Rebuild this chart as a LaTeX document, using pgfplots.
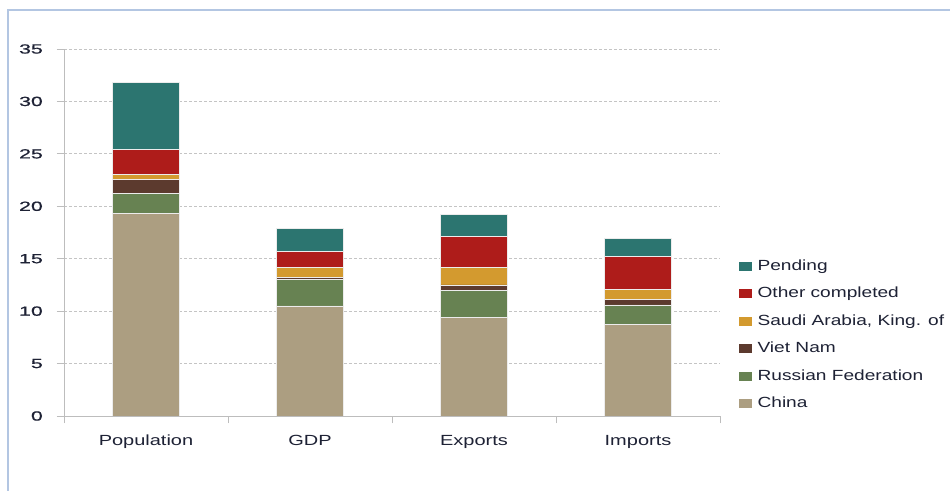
\documentclass[border=0pt]{standalone}
\usepackage{fontspec}
\setmainfont{Liberation Sans}[FakeStretch=1.36]
\newfontfamily\legfont{Liberation Sans}[FakeStretch=1.3]
\newfontfamily\tickfont{Liberation Sans}[FakeStretch=1.6, FakeBold=0.8]
\usepackage{pgfplots}
\pgfplotsset{compat=1.18}
\definecolor{cPend}{HTML}{2C7570}
\definecolor{cOther}{HTML}{AE1C1A}
\definecolor{cSaudi}{HTML}{D39A2F}
\definecolor{cViet}{HTML}{5C3A2E}
\definecolor{cRus}{HTML}{678252}
\definecolor{cChina}{HTML}{AC9E81}
\definecolor{txt}{HTML}{1E2235}
\definecolor{frameblue}{HTML}{B3C6E2}
\definecolor{spine}{HTML}{BDBDBD}
\definecolor{gridc}{HTML}{C4C4C4}
\begin{document}
\begin{tikzpicture}
\useasboundingbox (0,0) rectangle (950bp,491bp);
\fill[white] (0,0) rectangle (950bp,491bp);
\draw[frameblue, line width=1.2bp] (8bp,0) -- (8bp,481bp) -- (950bp,481bp);
\begin{axis}[
  at={(64bp,75bp)}, anchor=south west,
  scale only axis, width=656bp, height=367bp,
  xmin=-0.5, xmax=3.5, ymin=0, ymax=35,
  ybar stacked, bar width=0.405,
  axis x line*=bottom, axis y line*=left,
  axis line style={spine, line width=0.8bp},
  every tick/.style={spine, line width=0.8bp},
  tick align=outside, major tick length=7bp,
  xtick={-0.5,0.5,1.5,2.5,3.5}, xticklabels={},
  extra x ticks={0,1,2,3},
  extra x tick labels={Population,GDP,Exports,Imports},
  extra x tick style={major tick length=0pt, grid=none,
     xticklabel style={font=\fontsize{14.7bp}{16bp}\selectfont, text=txt, inner sep=0pt, anchor=north, yshift=-19bp}},
  ytick={0,5,...,35},
  ymajorgrids, y grid style={gridc, dash pattern=on 3bp off 2bp, line width=0.8bp},
  yticklabel style={font=\fontsize{13.3bp}{15bp}\tickfont, text=txt, inner sep=0pt, anchor=east, xshift=-14bp},
  /pgf/number format/assume math mode=true,
  every axis plot/.append style={draw=white!85!gray, line width=0.7bp},
  legend style={at={(1.029,0.4265)}, anchor=north west, draw=none, fill=none, inner sep=0pt,
    row sep=14bp, font=\fontsize{14.7bp}{16bp}\legfont, text=txt,
    nodes={inner sep=0pt, text height=10.5bp, text depth=3bp}},
  legend cell align=left,
  reverse legend,
  legend image code/.code={\fill[#1, draw=none] (0bp,-4.5bp) rectangle (13bp,4.5bp); \path (18bp,0bp);},
]
\addplot[fill=cChina] coordinates {(0,19.3) (1,10.5) (2,9.4) (3,8.7)};
\addlegendentry{China}
\addplot[fill=cRus] coordinates {(0,1.95) (1,2.55) (2,2.6) (3,1.9)};
\addlegendentry{Russian Federation}
\addplot[fill=cViet] coordinates {(0,1.3) (1,0.2) (2,0.5) (3,0.55)};
\addlegendentry{Viet Nam}
\addplot[fill=cSaudi] coordinates {(0,0.45) (1,0.9) (2,1.7) (3,0.95)};
\addlegendentry{Saudi Arabia, King. of}
\addplot[fill=cOther] coordinates {(0,2.45) (1,1.55) (2,2.95) (3,3.1)};
\addlegendentry{Other completed}
\addplot[fill=cPend] coordinates {(0,6.4) (1,2.2) (2,2.05) (3,1.75)};
\addlegendentry{Pending}
\end{axis}
\end{tikzpicture}
\end{document}
